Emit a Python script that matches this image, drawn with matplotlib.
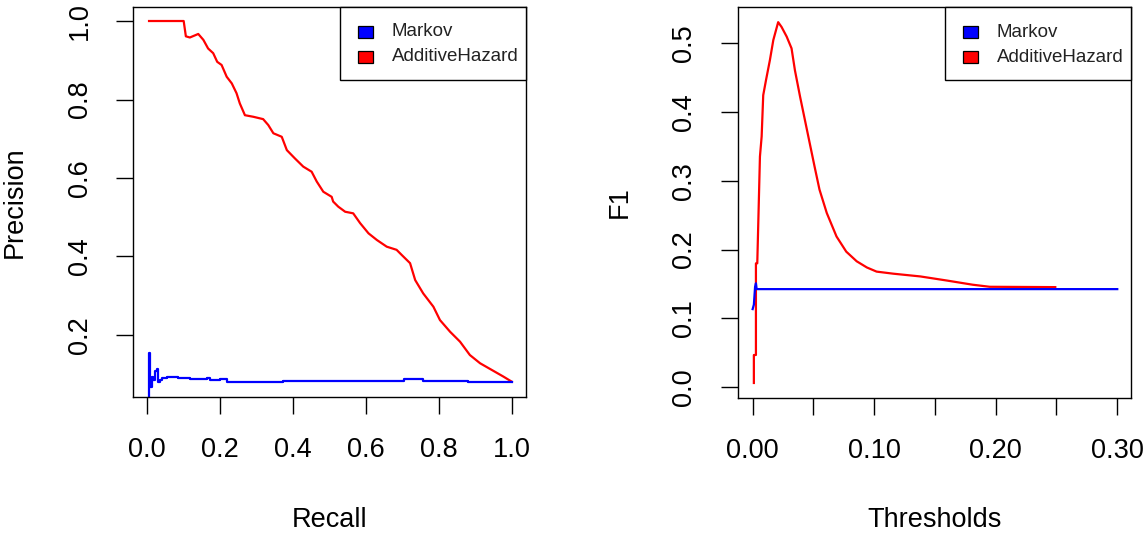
import numpy as np
import matplotlib.pyplot as plt
from matplotlib.patches import Rectangle

plt.rcParams['font.family'] = ['Liberation Sans', 'DejaVu Sans']

# Left panel: precision vs recall
ah_recall = [0.005, 0.10, 0.106, 0.117, 0.14, 0.154, 0.167, 0.181, 0.192, 0.204,
             0.218, 0.232, 0.245, 0.254, 0.268, 0.291, 0.318, 0.332, 0.346, 0.369,
             0.383, 0.405, 0.428, 0.451, 0.465, 0.483, 0.506, 0.51, 0.524, 0.543,
             0.565, 0.584, 0.607, 0.63, 0.657, 0.684, 0.698, 0.721, 0.735, 0.757,
             0.785, 0.803, 0.831, 0.858, 0.885, 0.913, 0.945, 0.977, 1.0]
ah_precision = [1.0, 1.0, 0.961, 0.958, 0.967, 0.952, 0.93, 0.918, 0.896, 0.888,
                0.858, 0.841, 0.816, 0.79, 0.76, 0.756, 0.75, 0.735, 0.714, 0.705,
                0.671, 0.65, 0.629, 0.616, 0.591, 0.565, 0.552, 0.54, 0.527, 0.514,
                0.51, 0.485, 0.459, 0.442, 0.425, 0.417, 0.404, 0.383, 0.34, 0.306,
                0.272, 0.238, 0.208, 0.183, 0.149, 0.128, 0.111, 0.094, 0.081]

mk_recall = [0.0, 0.005, 0.007, 0.012, 0.016, 0.021, 0.026, 0.030, 0.035, 0.04,
             0.053, 0.071, 0.085, 0.117, 0.163, 0.172, 0.2, 0.218, 0.254, 0.300,
             0.314, 0.373, 0.703, 0.757, 0.881, 1.0]
mk_precision = [0.0, 0.153, 0.068, 0.094, 0.085, 0.107, 0.113, 0.081, 0.085, 0.09,
                0.092, 0.092, 0.090, 0.087, 0.090, 0.085, 0.087, 0.081, 0.081, 0.0795,
                0.0795, 0.0836, 0.088, 0.0836, 0.0795, 0.0795]

# Right panel: F1 vs threshold
ah_thr = [0.001, 0.001, 0.0027, 0.0027, 0.0038, 0.0047, 0.006, 0.0074, 0.0087, 0.011,
          0.0142, 0.017, 0.021, 0.0238, 0.028, 0.032, 0.0348, 0.039, 0.043, 0.047,
          0.051, 0.055, 0.061, 0.069, 0.077, 0.0856, 0.094, 0.102, 0.1157, 0.138,
          0.16, 0.181, 0.195, 0.249]
ah_f1 = [0.0064, 0.047, 0.047, 0.18, 0.18, 0.243, 0.335, 0.364, 0.424, 0.446,
         0.475, 0.504, 0.530, 0.523, 0.509, 0.492, 0.460, 0.422, 0.388, 0.354,
         0.320, 0.287, 0.253, 0.219, 0.197, 0.183, 0.174, 0.168, 0.165, 0.161,
         0.155, 0.149, 0.146, 0.1455]

mk_thr = [0.0, 0.001, 0.002, 0.0027, 0.0033, 0.3]
mk_f1 = [0.1136, 0.12, 0.146, 0.151, 0.1426, 0.1426]

labels = ['Markov', 'AdditiveHazard']
colors = ['#0000ff', '#ff0000']

FS = 19.5


def r_legend(ax):
    # R-style legend box in the top right corner
    ax.add_patch(Rectangle((0.527, 0.813), 0.473, 0.187, transform=ax.transAxes,
                           facecolor='white', edgecolor='black', lw=1.0, zorder=5,
                           clip_on=False))
    for i, (lab, col) in enumerate(zip(labels, colors)):
        yc = 0.936 - i * 0.064
        ax.add_patch(Rectangle((0.572, yc - 0.0154), 0.038, 0.0308,
                               transform=ax.transAxes, facecolor=col,
                               edgecolor='black', lw=0.9, zorder=6))
        ax.text(0.658, yc, lab, transform=ax.transAxes, fontsize=13.5,
                va='center', ha='left', color='#222222', zorder=6)


def style_axes(ax):
    for s in ax.spines.values():
        s.set_linewidth(1.0)
        s.set_color('black')
    ax.tick_params(axis='both', direction='out', length=12, width=1.0,
                   labelsize=FS, colors='black')
    ax.tick_params(axis='x', pad=17)
    ax.tick_params(axis='y', pad=17)
    for lab in ax.get_yticklabels():
        lab.set_rotation(90)
        lab.set_va('center')


fig = plt.figure(figsize=(11.43, 5.34), dpi=100)
ax1 = fig.add_axes([133 / 1143, 1 - 397 / 534, 393 / 1143, 390 / 534])
ax2 = fig.add_axes([737.7 / 1143, 1 - 398 / 534, 393.3 / 1143, 391 / 534])

ax1.plot(ah_recall, ah_precision, color=colors[1], lw=1.6)
ax1.plot(mk_recall, mk_precision, color=colors[0], lw=1.6, drawstyle='steps-post')
ax1.set_xlim(-0.039, 1.039)
ax1.set_ylim(0.042, 1.0357)
ax1.set_xticks([0.0, 0.2, 0.4, 0.6, 0.8, 1.0])
ax1.set_xticklabels(['0.0', '0.2', '0.4', '0.6', '0.8', '1.0'])
ax1.set_yticks([0.2, 0.4, 0.6, 0.8, 1.0])
ax1.set_yticklabels(['0.2', '0.4', '0.6', '0.8', '1.0'])
ax1.set_xlabel('Recall', fontsize=FS, va='center')
ax1.set_ylabel('Precision', fontsize=FS, va='center')
ax1.xaxis.set_label_coords(0.5, (397 - 520) / 390)
ax1.yaxis.set_label_coords((15 - 133) / 393, 0.5)
style_axes(ax1)
r_legend(ax1)

ax2.plot(ah_thr, ah_f1, color=colors[1], lw=1.6)
ax2.plot(mk_thr, mk_f1, color=colors[0], lw=1.6)
ax2.set_xlim(-0.0123, 0.3113)
ax2.set_ylim(-0.0154, 0.552)
ax2.set_xticks([0.0, 0.05, 0.10, 0.15, 0.20, 0.25, 0.30])
ax2.set_xticklabels(['0.00', '', '0.10', '', '0.20', '', '0.30'])
ax2.set_yticks([0.0, 0.1, 0.2, 0.3, 0.4, 0.5])
ax2.set_yticklabels(['0.0', '0.1', '0.2', '0.3', '0.4', '0.5'])
ax2.set_xlabel('Thresholds', fontsize=FS, va='center')
ax2.set_ylabel('F1', fontsize=FS, va='center')
ax2.xaxis.set_label_coords(0.5, (398 - 520) / 391)
ax2.yaxis.set_label_coords((620 - 737.7) / 393.3, 0.5)
style_axes(ax2)
r_legend(ax2)

fig.savefig('out.png', dpi=100)
